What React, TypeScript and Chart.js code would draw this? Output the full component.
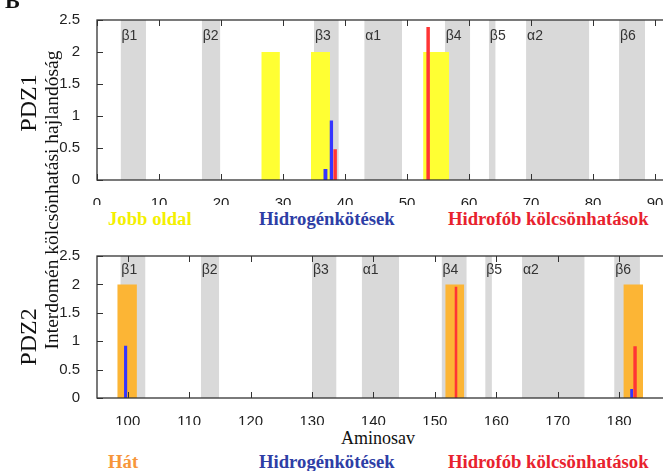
import React, { useEffect, useRef } from "react";
import Chart from "chart.js/auto";

// ---- Data ----
const ssNames = ["β1", "β2", "β3", "α1", "β4", "β5", "α2", "β6"];
const ssStartPDZ1 = [3.8, 16.9, 35, 43.1, 56.1, 63.2, 69.2, 84.2];
const ssEndPDZ1 = [7.9, 19.9, 39, 49.2, 60.2, 64.3, 79.4, 88.4];
const ssStartPDZ2 = [98.8, 111.9, 130, 138.1, 151.1, 158.2, 164.2, 179.2];
const ssEndPDZ2 = [102.9, 114.9, 134, 144.2, 155.2, 159.3, 174.4, 183.4];

// PDZ1 "Jobb oldal" (yellow)
const sideStartPDZ1 = [26.5, 34.5, 52.6];
const sideEndPDZ1 = [29.5, 37.6, 56.8];
const sideValPDZ1 = [2, 2, 2];
// PDZ2 "Hát" (orange)
const sideStartPDZ2 = [98.3, 151.7, 180.7];
const sideEndPDZ2 = [101.5, 154.8, 183.9];
const sideValPDZ2 = [2, 2, 2];

// Hydrogen bonds (blue)
const hbStartPDZ1 = [36.5, 37.5];
const hbEndPDZ1 = [37.2, 38.1];
const hbValPDZ1 = [0.17, 0.93];
const hbStartPDZ2 = [99.4, 181.8];
const hbEndPDZ2 = [99.95, 182.3];
const hbValPDZ2 = [0.92, 0.16];

// Hydrophobic interactions (red)
const hpStartPDZ1 = [38.1, 53.1];
const hpEndPDZ1 = [38.7, 53.7];
const hpValPDZ1 = [0.48, 2.39];
const hpStartPDZ2 = [153.2, 182.3];
const hpEndPDZ2 = [153.7, 182.9];
const hpValPDZ2 = [1.96, 0.91];

const xTicksPDZ1 = [0, 10, 20, 30, 40, 50, 60, 70, 80, 90];
const xTicksPDZ2 = [100, 110, 120, 130, 140, 150, 160, 170, 180, 190];
const yTicks = [0, 0.5, 1, 1.5, 2, 2.5];
const yTickLabels = ["0", "0.5", "1", "1.5", "2", "2.5"];

const GRAY = "#d9d9d9";
const YELLOW = "#ffff33";
const ORANGE = "#fcb535";
const BLUE = "#3535ff";
const RED = "#ff3535";

function rect(x0: number, x1: number, h: number) {
  return [
    { x: x0, y: 0 },
    { x: x0, y: h },
    { x: x1, y: h },
    { x: x1, y: 0 },
  ];
}

function rectSets(starts: number[], ends: number[], vals: number[], color: string, order: number) {
  return starts.map((s, i) => ({
    data: rect(s, ends[i], vals[i]),
    backgroundColor: color,
    borderColor: "rgba(0,0,0,0)",
    borderWidth: 0,
    pointRadius: 0,
    pointHoverRadius: 0,
    fill: "origin",
    tension: 0,
    order,
  }));
}

function makeConfig(opts: {
  ssStart: number[];
  ssEnd: number[];
  sideStart: number[];
  sideEnd: number[];
  sideVal: number[];
  sideColor: string;
  hbStart: number[];
  hbEnd: number[];
  hbVal: number[];
  hpStart: number[];
  hpEnd: number[];
  hpVal: number[];
  xMin: number;
  xMax: number;
  xTicks: number[];
  padTop: number;
  xAxisH: number;
  labelOffset: number;
}) {
  const yMax = yTicks[yTicks.length - 1];
  const datasets = [
    ...rectSets(opts.ssStart, opts.ssEnd, opts.ssStart.map(() => yMax), GRAY, 4),
    ...rectSets(opts.sideStart, opts.sideEnd, opts.sideVal, opts.sideColor, 3),
    ...rectSets(opts.hbStart, opts.hbEnd, opts.hbVal, BLUE, 2),
    ...rectSets(opts.hpStart, opts.hpEnd, opts.hpVal, RED, 1),
  ];
  const framePlugin = {
    id: "frameTicks",
    afterDatasetsDraw(chart: any) {
      const { ctx, chartArea, scales } = chart;
      const xs = scales.x;
      const ys = scales.y;
      ctx.save();
      ctx.fillStyle = "#333";
      ctx.font = "14px 'Liberation Sans', Arial, sans-serif";
      ctx.textAlign = "left";
      ctx.textBaseline = "middle";
      ssNames.forEach((n, i) => {
        ctx.fillText(n, xs.getPixelForValue(opts.ssStart[i]) + 1, chartArea.top + opts.labelOffset);
      });
      ctx.strokeStyle = "#333";
      ctx.lineWidth = 1;
      const L = 6;
      ctx.beginPath();
      opts.xTicks.forEach((v) => {
        const px = Math.round(xs.getPixelForValue(v)) + 0.5;
        ctx.moveTo(px, chartArea.bottom);
        ctx.lineTo(px, chartArea.bottom - L);
        ctx.moveTo(px, chartArea.top);
        ctx.lineTo(px, chartArea.top + L);
      });
      yTicks.forEach((v) => {
        const py = Math.round(ys.getPixelForValue(v)) + 0.5;
        ctx.moveTo(chartArea.left, py);
        ctx.lineTo(chartArea.left + L, py);
        ctx.moveTo(chartArea.right, py);
        ctx.lineTo(chartArea.right - L, py);
      });
      ctx.stroke();
      ctx.lineWidth = 1.3;
      ctx.strokeRect(chartArea.left, chartArea.top, chartArea.right - chartArea.left, chartArea.bottom - chartArea.top);
      ctx.restore();
    },
  };
  return {
    type: "line" as const,
    data: { datasets },
    options: {
      animation: false,
      responsive: false,
      devicePixelRatio: 1,
      events: [],
      layout: { padding: { top: opts.padTop, left: 0, right: 14, bottom: 0 } },
      plugins: { legend: { display: false }, tooltip: { enabled: false } },
      scales: {
        x: {
          type: "linear",
          min: opts.xMin,
          max: opts.xMax,
          grid: { display: false },
          border: { display: false },
          afterBuildTicks: (s: any) => {
            s.ticks = opts.xTicks.map((v) => ({ value: v }));
          },
          afterFit: (s: any) => {
            s.height = opts.xAxisH;
          },
          ticks: {
            autoSkip: false,
            maxRotation: 0,
            padding: 7,
            color: "#222",
            callback: (v: number) => String(v),
            font: { family: "'Liberation Sans', Arial, sans-serif", size: 15 },
          },
        },
        y: {
          type: "linear",
          min: 0,
          max: yMax,
          grid: { display: false },
          border: { display: false },
          afterBuildTicks: (s: any) => {
            s.ticks = yTicks.map((v) => ({ value: v }));
          },
          afterFit: (s: any) => {
            s.width = 97;
          },
          ticks: {
            padding: 9,
            color: "#222",
            callback: (v: number, i: number) => yTickLabels[i],
            font: { family: "'Liberation Sans', Arial, sans-serif", size: 15 },
          },
        },
      },
    },
    plugins: [framePlugin],
  };
}

function ChartCanvas(props: { config: any; width: number; height: number; top: number }) {
  const ref = useRef<HTMLCanvasElement>(null);
  useEffect(() => {
    const chart = new Chart(ref.current as HTMLCanvasElement, props.config);
    return () => chart.destroy();
  }, []);
  return (
    <canvas
      ref={ref}
      width={props.width}
      height={props.height}
      style={{ position: "absolute", left: 0, top: props.top, width: props.width, height: props.height }}
    />
  );
}

const serif = "'Liberation Serif', 'Times New Roman', serif";

function Txt(props: { x: number; y: number; text: string; size: number; color?: string; bold?: boolean; rotate?: boolean; align?: "left" | "center" }) {
  const center = props.align !== "left";
  return (
    <div
      style={{
        position: "absolute",
        left: props.x,
        top: props.y,
        transform: `translate(${center ? "-50%" : "0"},-50%)${props.rotate ? " rotate(-90deg)" : ""}`,
        transformOrigin: center ? "center" : "left center",
        whiteSpace: "nowrap",
        fontFamily: serif,
        fontSize: props.size,
        fontWeight: props.bold ? 700 : 400,
        color: props.color || "#111",
        lineHeight: 1,
      }}
    >
      {props.text}
    </div>
  );
}

export default function App() {
  const cfg1 = makeConfig({
    ssStart: ssStartPDZ1,
    ssEnd: ssEndPDZ1,
    sideStart: sideStartPDZ1,
    sideEnd: sideEndPDZ1,
    sideVal: sideValPDZ1,
    sideColor: YELLOW,
    hbStart: hbStartPDZ1,
    hbEnd: hbEndPDZ1,
    hbVal: hbValPDZ1,
    hpStart: hpStartPDZ1,
    hpEnd: hpEndPDZ1,
    hpVal: hpValPDZ1,
    xMin: 0,
    xMax: 95,
    xTicks: xTicksPDZ1,
    padTop: 20,
    xAxisH: 25,
    labelOffset: 16,
  });
  const cfg2 = makeConfig({
    ssStart: ssStartPDZ2,
    ssEnd: ssEndPDZ2,
    sideStart: sideStartPDZ2,
    sideEnd: sideEndPDZ2,
    sideVal: sideValPDZ2,
    sideColor: ORANGE,
    hbStart: hbStartPDZ2,
    hbEnd: hbEndPDZ2,
    hbVal: hbValPDZ2,
    hpStart: hpStartPDZ2,
    hpEnd: hpEndPDZ2,
    hpVal: hpValPDZ2,
    xMin: 95,
    xMax: 190,
    xTicks: xTicksPDZ2,
    padTop: 26,
    xAxisH: 27,
    labelOffset: 14,
  });
  return (
    <div style={{ position: "fixed", left: 0, top: 0, width: 663, height: 471, overflow: "hidden", background: "#fff" }}>
      <ChartCanvas config={cfg1} width={700} height={205} top={0} />
      <ChartCanvas config={cfg2} width={700} height={195} top={230} />
      <div style={{ position: "absolute", left: 5, top: -10, fontFamily: serif, fontWeight: 700, fontSize: 22, lineHeight: "22px", color: "#111" }}>B</div>
      <Txt x={28} y={103} text="PDZ1" size={24} rotate />
      <Txt x={28} y={337} text="PDZ2" size={24} rotate />
      <Txt x={52} y={200} text="Interdomén kölcsönhatási hajlandóság" size={19.5} rotate />
      <Txt x={378} y={438} text="Aminosav" size={18} />
      <Txt x={108} y={219} text="Jobb oldal" size={18.7} bold color="#f4f000" align="left" />
      <Txt x={259} y={219} text="Hidrogénkötések" size={18.7} bold color="#2e3ea6" align="left" />
      <Txt x={448} y={219} text="Hidrofób kölcsönhatások" size={18.7} bold color="#e8222e" align="left" />
      <Txt x={108} y={462} text="Hát" size={18.7} bold color="#f7963a" align="left" />
      <Txt x={259} y={462} text="Hidrogénkötések" size={18.7} bold color="#2e3ea6" align="left" />
      <Txt x={448} y={462} text="Hidrofób kölcsönhatások" size={18.7} bold color="#e8222e" align="left" />
    </div>
  );
}
